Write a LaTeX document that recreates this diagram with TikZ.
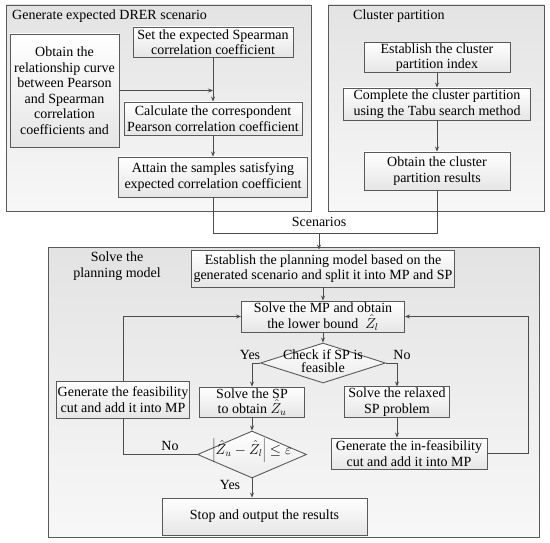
\documentclass[tikz,border=0pt]{standalone}
\usepackage{fontspec}
\setmainfont{Liberation Serif}
\usetikzlibrary{arrows.meta,shapes.geometric,calc}
\newcommand{\zerobox}[1]{\smash{\makebox[0pt]{#1}}}
\begin{document}
\begin{tikzpicture}[x=1pt,y=-1pt,
  font=\fontsize{14}{15.5}\selectfont,
  lc/.style={draw=black!65, line width=0.9pt},
  panel/.style={lc, top color=black!11, bottom color=black!3, inner sep=0pt},
  box/.style={lc, top color=white, bottom color=black!10, align=center, inner sep=1pt},
  arr/.style={draw=black!70, line width=0.8pt, -{Stealth[length=5pt,width=4pt]}},
  ln/.style={draw=black!70, line width=0.8pt},
  dia/.style={lc, diamond, top color=white, bottom color=black!8, inner sep=0pt},
  lbl/.style={inner sep=0pt}
]
\useasboundingbox (0,0) rectangle (550,543);
\fill[white] (0,0) rectangle (550,543);

% panels
\node[panel, minimum width=305, minimum height=206] (p1) at (158.5,108) {};
\node[panel, minimum width=216, minimum height=206] (p2) at (436,108) {};
\node[panel, minimum width=491, minimum height=290] (p3) at (293.5,392) {};
\node[lbl, anchor=west] (t1) at (12,16) {Generate expected DRER scenario};
\node[lbl, anchor=west] (t2) at (353,16) {Cluster partition};
\node[lbl, align=center] (t3) at (117,266) {Solve the\\planning model};

% panel 1
\node[box, minimum width=109, minimum height=113] (obtain) at (64.5,90.5)
  {Obtain the\\relationship curve\\between Pearson\\and Spearman\\correlation\\coefficients and};
\node[box, minimum width=160, minimum height=30] (set) at (213,42)
  {Set the expected Spearman\\correlation coefficient};
\node[box, minimum width=178, minimum height=33] (calc) at (213,118.5)
  {Calculate the correspondent\\Pearson correlation coefficient};
\node[box, minimum width=189, minimum height=40] (attain) at (213,177)
  {Attain the samples satisfying\\expected correlation coefficient};

% panel 2
\node[box, minimum width=146, minimum height=29] (cidx) at (437,57.5)
  {Establish the cluster\\partition index};
\node[box, minimum width=187, minimum height=32] (comp) at (437,104)
  {Complete the cluster partition\\using the Tabu search method};
\node[box, minimum width=146, minimum height=38] (res) at (437,171)
  {Obtain the cluster\\partition results};

% panel 3
\node[box, minimum width=263, minimum height=37] (estab) at (323,268.5)
  {Establish the planning model based on the\\generated scenario and split it into MP and SP};
\node[box, minimum width=163, minimum height=31] (mp) at (323,316.5)
  {Solve the MP and obtain\\the lower bound\ \ $\hat{Z}_l$};
\node[dia, minimum width=125, minimum height=40] (chk) at (323,363)
  {\zerobox{\raisebox{-0.25em}{\begin{tabular}{@{}c@{}}Check if SP is\\[-2pt]feasible\end{tabular}}}};
\node[box, minimum width=105, minimum height=30] (sp) at (252,402)
  {Solve the SP\\to obtain $\hat{Z}_u$};
\node[box, minimum width=105, minimum height=30] (relax) at (397,402)
  {Solve the relaxed\\SP problem};
\node[box, minimum width=156, minimum height=31] (infeas) at (409,453.5)
  {Generate the in-feasibility\\cut and add it into MP};
\node[box, minimum width=132, minimum height=37] (feas) at (123,399.5)
  {Generate the feasibility\\cut and add it into MP};
\node[dia, minimum width=109, minimum height=47] (eps) at (252,454.5)
  {\zerobox{$\left|\hat{Z}_u-\hat{Z}_l\right|\le\varepsilon$}};
\node[box, minimum width=205, minimum height=37] (stop) at (264.5,516.5)
  {Stop and output the results};

% labels
\node[lbl] (scen) at (319,222) {Scenarios};
\node[lbl] (yes1) at (250,355) {Yes};
\node[lbl] (no1) at (402,355) {No};
\node[lbl] (no2) at (170,446) {No};
\node[lbl] (yes2) at (230,485) {Yes};

% coordinates
\coordinate (j1) at (213,233);
\coordinate (j2) at (437,233);
\coordinate (jx) at (319,233);
\coordinate (r1) at (528,316.5);

% connectors panel 1
\draw[arr] (obtain.east) -- (obtain.east -| set.south);
\draw[arr] (set.south) -- (calc.north);
\draw[arr] (calc.south) -- (attain.north);
% panel 2
\draw[arr] (cidx.south) -- (comp.north);
\draw[arr] (comp.south) -- (res.north);
% merge
\draw[ln] (attain.south) -- (j1) -- (j2) -- (res.south);
\draw[arr] (jx) -- (jx |- estab.north);
% panel 3
\draw[arr] (estab.south) -- (mp.north);
\draw[arr] (mp.south) -- (chk.north);
\draw[arr] (chk.west) -| (sp.north);
\draw[arr] (chk.east) -| (relax.north);
\draw[arr] (sp.south) -- (eps.north);
\draw[arr] (relax.south) -- (relax.south |- infeas.north);
\draw[arr] (infeas.east) -| (r1) -- (mp.east);
\draw[ln] (eps.west) -| (feas.south);
\draw[arr] (feas.north) |- (mp.west);
\draw[arr] (eps.south) -- (eps.south |- stop.north);
\end{tikzpicture}
\end{document}
